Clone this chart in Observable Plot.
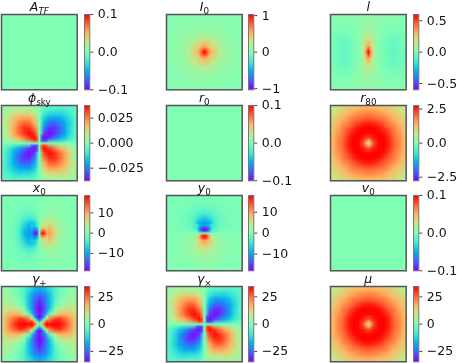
<!DOCTYPE html>
<html><head><meta charset="utf-8">
<script src="https://cdn.jsdelivr.net/npm/d3@7"></script>
<script src="https://cdn.jsdelivr.net/npm/@observablehq/plot@0.6"></script>
<style>
html,body{margin:0;padding:0;background:#fff;overflow:hidden}
#c{position:relative;width:457px;height:363px;overflow:hidden;filter:blur(0.55px)}
#c svg{position:absolute;overflow:visible;background:transparent}
</style></head><body><div id="c"></div>
<script>
// Matplotlib "rainbow" colour stops
const rainbowStops = ["#8000ff","#4062fa","#00b4ec","#40ecd4","#80ffb4","#bfec8e","#ffb462","#ff6232","#ff0000"];

// Percent of each panel's colour range (15×15, top row first)
const peakCoarse = [
2,2,3,3,3,4,4,4,4,4,3,3,3,2,2,
2,3,3,4,4,5,5,5,5,5,4,4,3,3,2,
3,3,4,5,6,7,8,8,8,7,6,5,4,3,3,
3,4,5,6,8,10,11,12,11,10,8,6,5,4,3,
3,4,6,8,11,15,19,21,19,15,11,8,6,4,3,
4,5,7,10,15,24,34,38,34,24,15,10,7,5,4,
4,5,8,11,19,34,48,58,48,34,19,11,8,5,4,
4,5,8,12,21,38,58,100,58,38,21,12,8,5,4,
4,5,8,11,19,34,48,58,48,34,19,11,8,5,4,
4,5,7,10,15,24,34,38,34,24,15,10,7,5,4,
3,4,6,8,11,15,19,21,19,15,11,8,6,4,3,
3,4,5,6,8,10,11,12,11,10,8,6,5,4,3,
3,3,4,5,6,7,8,8,8,7,6,5,4,3,3,
2,3,3,4,4,5,5,5,5,5,4,4,3,3,2,
2,2,3,3,3,4,4,4,4,4,3,3,3,2,2];
const peakFine = [
27,35,40,45,40,35,27,
35,44,54,60,54,44,35,
40,54,72,82,72,54,40,
45,60,82,100,82,60,45,
40,54,72,82,72,54,40,
35,44,54,60,54,44,35,
27,35,40,45,40,35,27];

const stripeCoarse = [
3,3,3,3,4,5,6,7,6,5,4,3,3,3,3,
2,2,2,3,4,6,8,9,8,6,4,3,2,2,2,
0,-1,-1,0,2,5,9,12,9,5,2,0,-1,-1,0,
-2,-3,-4,-3,0,4,11,18,11,4,0,-3,-4,-3,-2,
-3,-5,-7,-5,-1,4,15,28,15,4,-1,-5,-7,-5,-3,
-4,-7,-9,-7,-2,3,20,42,20,3,-2,-7,-9,-7,-4,
-4,-8,-10,-8,-3,2,22,68,22,2,-3,-8,-10,-8,-4,
-4,-8,-10,-8,-3,1,20,100,20,1,-3,-8,-10,-8,-4,
-4,-8,-10,-8,-3,2,22,68,22,2,-3,-8,-10,-8,-4,
-4,-7,-9,-7,-2,3,20,42,20,3,-2,-7,-9,-7,-4,
-3,-5,-7,-5,-1,4,15,28,15,4,-1,-5,-7,-5,-3,
-2,-3,-4,-3,0,4,11,18,11,4,0,-3,-4,-3,-2,
0,-1,-1,0,2,5,9,12,9,5,2,0,-1,-1,0,
2,2,2,3,4,6,8,9,8,6,4,3,2,2,2,
3,3,3,3,4,5,6,7,6,5,4,3,3,3,3];
const stripeFine = [
6,16,32,48,32,16,6,
7,20,42,68,42,20,7,
8,24,52,85,52,24,8,
8,24,62,100,62,24,8,
8,24,52,85,52,24,8,
7,20,42,68,42,20,7,
6,16,32,48,32,16,6];

const quadCoarse = [
12,15,18,18,15,16,12,0,-12,-16,-15,-18,-18,-15,-12,
15,22,30,35,33,32,26,0,-26,-32,-33,-35,-30,-22,-15,
18,30,42,52,55,55,40,0,-40,-55,-55,-52,-42,-30,-18,
18,35,52,65,75,72,52,0,-52,-72,-75,-65,-52,-35,-18,
15,33,55,75,88,88,68,0,-68,-88,-88,-75,-55,-33,-15,
16,32,55,72,88,98,85,0,-85,-98,-88,-72,-55,-32,-16,
12,26,40,52,68,85,75,0,-75,-85,-68,-52,-40,-26,-12,
0,0,0,0,0,0,0,0,0,0,0,0,0,0,0,
-12,-26,-40,-52,-68,-85,-75,0,75,85,68,52,40,26,12,
-16,-32,-55,-72,-88,-98,-85,0,85,98,88,72,55,32,16,
-15,-33,-55,-75,-88,-88,-68,0,68,88,88,75,55,33,15,
-18,-35,-52,-65,-75,-72,-52,0,52,72,75,65,52,35,18,
-18,-30,-42,-52,-55,-55,-40,0,40,55,55,52,42,30,18,
-15,-22,-30,-35,-33,-32,-26,0,26,32,33,35,30,22,15,
-12,-15,-18,-18,-15,-16,-12,0,12,16,15,18,18,15,12];
const quadFine = [
92,90,72,0,-72,-90,-92,
90,98,85,0,-85,-98,-90,
72,85,78,0,-78,-85,-72,
0,0,0,0,0,0,0,
-72,-85,-78,0,78,85,72,
-90,-98,-85,0,85,98,90,
-92,-90,-72,0,72,90,92];

const ringCoarse = [
24,30,36,40,44,47,50,50,50,47,44,40,36,30,24,
30,36,42,48,55,60,63,65,63,60,55,48,42,36,30,
36,42,50,59,68,70,74,76,74,70,68,59,50,42,36,
40,48,59,66,76,84,90,92,90,84,76,66,59,48,40,
44,55,68,76,88,96,100,100,100,96,88,76,68,55,44,
47,60,70,84,96,100,99,98,99,100,96,84,70,60,47,
50,63,74,90,100,99,95,85,95,99,100,90,74,63,50,
50,65,76,92,100,98,85,30,85,98,100,92,76,65,50,
50,63,74,90,100,99,95,85,95,99,100,90,74,63,50,
47,60,70,84,96,100,99,98,99,100,96,84,70,60,47,
44,55,68,76,88,96,100,100,100,96,88,76,68,55,44,
40,48,59,66,76,84,90,92,90,84,76,66,59,48,40,
36,42,50,59,68,70,74,76,74,70,68,59,50,42,36,
30,36,42,48,55,60,63,65,63,60,55,48,42,36,30,
24,30,36,40,44,47,50,50,50,47,44,40,36,30,24];
const ringFine = [
98,95,92,90,92,95,98,
95,92,85,80,85,92,95,
92,85,68,50,68,85,92,
90,80,50,0,50,80,90,
92,85,68,50,68,85,92,
95,92,85,80,85,92,95,
98,95,92,90,92,95,98];

const dipoleXCoarse = [
-1,-1,-1,-2,-2,-2,-1,0,1,2,2,2,1,1,1,
-1,-1,-2,-2,-3,-3,-2,0,2,3,3,2,2,1,1,
-1,-2,-2,-3,-5,-6,-3,0,3,5,5,3,2,2,1,
-1,-2,-3,-6,-9,-12,-8,0,6,9,8,5,3,2,1,
-2,-2,-4,-9,-18,-25,-18,0,14,16,13,7,4,2,2,
-2,-3,-5,-13,-32,-45,-38,0,30,32,22,10,5,3,2,
-2,-3,-6,-18,-42,-55,-52,0,58,48,30,12,5,3,2,
-2,-3,-6,-22,-48,-60,-75,0,70,55,38,18,9,3,2,
-2,-3,-6,-18,-42,-55,-52,0,58,48,30,12,5,3,2,
-2,-3,-5,-13,-32,-45,-38,0,30,32,22,10,5,3,2,
-2,-2,-4,-9,-18,-25,-18,0,14,16,13,7,4,2,2,
-1,-2,-3,-6,-9,-12,-8,0,6,9,8,5,3,2,1,
-1,-2,-2,-3,-5,-6,-3,0,3,5,5,3,2,2,1,
-1,-1,-2,-2,-3,-3,-2,0,2,3,3,2,2,1,1,
-1,-1,-1,-2,-2,-2,-1,0,1,2,2,2,1,1,1];
const dipoleXFine = [
-38,-40,-25,0,22,30,28,
-48,-55,-45,0,38,45,38,
-55,-75,-75,0,72,68,48,
-58,-92,-100,0,100,90,55,
-55,-75,-75,0,72,68,48,
-48,-55,-45,0,38,45,38,
-38,-40,-25,0,22,30,28];

const dipoleYCoarse = [
0,-1,-1,-1,-2,-2,-2,-2,-2,-2,-2,-1,-1,-1,0,
-1,-1,-2,-2,-3,-4,-5,-5,-5,-4,-3,-2,-2,-1,-1,
-1,-2,-2,-3,-5,-7,-9,-10,-9,-7,-5,-3,-2,-2,-1,
-1,-2,-3,-4,-7,-12,-17,-20,-17,-12,-7,-4,-3,-2,-1,
-1,-2,-3,-5,-9,-17,-32,-40,-32,-17,-9,-5,-3,-2,-1,
-1,-2,-3,-5,-9,-22,-50,-58,-50,-22,-9,-5,-3,-2,-1,
-1,-2,-3,-4,-7,-16,-48,-80,-48,-16,-7,-4,-3,-2,-1,
0,0,0,0,0,0,0,0,0,0,0,0,0,0,0,
1,2,3,4,7,14,50,75,50,14,7,4,3,2,1,
1,2,3,5,9,18,40,50,40,18,9,5,3,2,1,
1,2,3,5,9,15,25,30,25,15,9,5,3,2,1,
1,2,3,4,7,11,15,18,15,11,7,4,3,2,1,
1,2,2,3,5,8,10,12,10,8,5,3,2,2,1,
1,1,2,2,3,5,7,8,7,5,3,2,2,1,1,
1,1,1,2,2,3,4,5,4,3,2,2,1,1,1];
const dipoleYFine = [
-22,-42,-52,-55,-52,-42,-22,
-25,-62,-85,-90,-85,-62,-25,
-15,-52,-85,-100,-85,-52,-15,
0,0,0,0,0,0,0,
14,50,85,100,85,50,14,
20,52,80,88,80,52,20,
18,35,45,52,45,35,18];

const crossCoarse = [
8,3,-2,-8,-18,-32,-45,-52,-45,-32,-18,-8,-2,3,8,
12,8,2,-6,-20,-42,-62,-70,-62,-42,-20,-6,2,8,12,
15,12,6,-2,-18,-45,-70,-85,-70,-45,-18,-2,6,12,15,
22,20,14,4,-14,-45,-75,-95,-75,-45,-14,4,14,20,22,
28,30,28,18,0,-40,-78,-100,-78,-40,0,18,28,30,28,
32,45,50,48,25,-8,-70,-95,-70,-8,25,48,50,45,32,
40,60,75,88,85,65,0,-60,0,65,85,88,75,60,40,
42,65,85,98,100,100,72,0,72,100,100,98,85,65,42,
40,60,75,88,85,65,0,-60,0,65,85,88,75,60,40,
32,45,50,48,25,-8,-70,-95,-70,-8,25,48,50,45,32,
28,30,28,18,0,-40,-78,-100,-78,-40,0,18,28,30,28,
22,20,14,4,-14,-45,-75,-95,-75,-45,-14,4,14,20,22,
15,12,6,-2,-18,-45,-70,-85,-70,-45,-18,-2,6,12,15,
12,8,2,-6,-20,-42,-62,-70,-62,-42,-20,-6,2,8,12,
8,3,-2,-8,-18,-32,-45,-52,-45,-32,-18,-8,-2,3,8];
const crossFine = [
0,-50,-90,-100,-90,-50,0,
50,0,-55,-85,-55,0,50,
90,55,0,-40,0,55,90,
100,85,40,0,40,85,100,
90,55,0,-40,0,55,90,
50,0,-55,-85,-55,0,50,
0,-50,-90,-100,-90,-50,0];

const flatCoarse = [0];

// Panels, in reading order
const titleMain = ["A","I","l","ϕ","r","r","x","y","v","γ","γ","μ"];
const titleSub  = ["TF","0","","sky","0","80","0","0","0","+","×",""];
const colorMax  = [0.1,1.03,0.6,0.0376,0.1,2.76,18.6,18,0.1,34.5,34.5,34.5];
const tickStep  = [0.1,1,0.5,0.025,0.1,2.5,10,10,0.1,25,25,25];
const tickFmt   = [".1f","d",".1f",".3f",".1f",".1f","d","d",".1f","d","d","d"];
const coarseGrids = [flatCoarse,peakCoarse,stripeCoarse,quadCoarse,flatCoarse,ringCoarse,dipoleXCoarse,dipoleYCoarse,flatCoarse,crossCoarse,quadCoarse,ringCoarse];
const fineGrids   = [null,peakFine,stripeFine,quadFine,null,ringFine,dipoleXFine,dipoleYFine,null,crossFine,quadFine,ringFine];

// Layout
const colLeft = [0.8,165.7,330.3], rowTop = [14,104.7,195,286];
const panelW = 75.7, panelH = 75.3, barGap = 7, barW = 5.3;
const font = "'DejaVu Sans',sans-serif";
const half = 37.5, fineHalf = 8.75;

const root = document.getElementById("c");
const colorScale = vmax => ({
  type:"linear",
  domain: rainbowStops.map((_,i)=> -vmax + 2*vmax*i/(rainbowStops.length-1)),
  range: rainbowStops
});
function place(svg,left,top){svg.style.left=left+"px";svg.style.top=top+"px";root.appendChild(svg);}

titleMain.forEach((main,k)=>{
  const left = colLeft[k%3], top = rowTop[Math.floor(k/3)], vmax = colorMax[k];
  const mt = 16, m = 2;
  const coarse = coarseGrids[k], fine = fineGrids[k];
  const n = Math.round(Math.sqrt(coarse.length));
  const marks = [
    Plot.raster(coarse.map(p=>p*vmax/100),{width:n,height:n,x1:-half,x2:half,y1:-half,y2:half,fill:d=>d})
  ];
  if (fine) {
    const f = Math.round(Math.sqrt(fine.length));
    marks.push(Plot.raster(fine.map(p=>p*vmax/100),{width:f,height:f,x1:-fineHalf,x2:fineHalf,y1:-fineHalf,y2:fineHalf,fill:d=>d}));
  }
  marks.push(Plot.frame({stroke:"#555",strokeWidth:1.5}));
  marks.push(Plot.text([main],{frameAnchor:"top",lineAnchor:"bottom",dy:-3,text:d=>d,fill:"#111"}));
  const svg = Plot.plot({
    width: panelW+2*m, height: panelH+mt+m,
    marginLeft:m, marginRight:m, marginTop:mt, marginBottom:m,
    style:{fontFamily:font,fontSize:"12.5px",background:"transparent",overflow:"visible"},
    x:{domain:[-half,half],axis:null},
    y:{domain:[-half,half],reverse:true,axis:null},
    color:colorScale(vmax),
    marks
  });
  const texts = svg.querySelectorAll("text");
  const t = d3.select(texts[texts.length-1]);
  t.text(null);
  t.append("tspan").attr("font-style","italic").text(main);
  if (titleSub[k]) {
    t.append("tspan").attr("dy","3").attr("font-size","8.8")
     .attr("font-style", titleSub[k]==="TF" ? "italic" : "normal").text(titleSub[k]);
  }
  place(svg,left-m,top-mt);

  // Colour bar
  const mv = 6, mr = 60, ml = 1, step = tickStep[k];
  const bar = Plot.plot({
    width: barW+ml+mr, height: panelH+2*mv,
    marginLeft:ml, marginRight:mr, marginTop:mv, marginBottom:mv,
    style:{fontFamily:font,fontSize:"12.5px",background:"transparent",overflow:"visible",color:"#111"},
    x:{domain:[0,1],axis:null},
    y:{domain:[-vmax,vmax],axis:null},
    color:colorScale(vmax),
    marks:[
      Plot.raster({fill:(x,y)=>y,x1:0,x2:1,y1:-vmax,y2:vmax,width:1,height:128}),
      Plot.frame({stroke:"#777",strokeWidth:1}),
      Plot.axisY([-step,0,step],{anchor:"right",tickSize:3,tickPadding:5,tickFormat:d3.format(tickFmt[k]),stroke:"#444",fill:"#111",label:null})
    ]
  });
  place(bar,left+panelW+barGap-ml,top-mv);
});
</script></body></html>
